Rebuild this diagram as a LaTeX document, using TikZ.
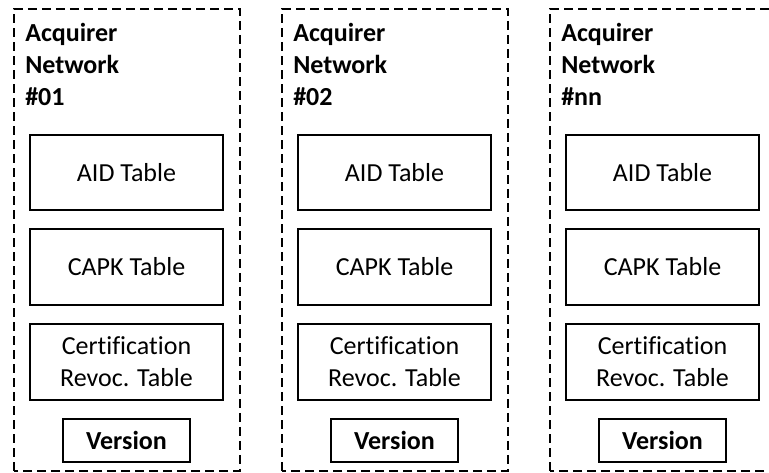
\documentclass[tikz,border=0pt]{standalone}
\usepackage{fontspec}
\setmainfont{Carlito}[Ligatures=CommonOff]
\usetikzlibrary{positioning}

\begin{document}
\begin{tikzpicture}[x=0.75pt,y=0.75pt,
  netbox/.style={draw,line width=1.5pt,dash pattern=on 6.5pt off 4pt},
  tbl/.style={draw,line width=1.5pt,minimum width=144.75pt,minimum height=57pt,
    inner sep=0pt,align=center,font=\fontsize{19.5}{24}\selectfont},
  verbox/.style={draw,line width=1.5pt,minimum width=95.25pt,minimum height=32.25pt,
    inner sep=0pt,font=\fontsize{19.5}{24}\selectfont\bfseries},
  title/.style={anchor=north west,inner sep=0pt,align=left,
    font=\fontsize{19.5}{24}\selectfont\bfseries},
  node distance=12.75pt]
  \clip (0,0) rectangle (769,473);
  % one acquirer network per column, the last one runs off the right edge
  \foreach \n [count=\c from 0] in {01,02,nn} {
    \begin{scope}[xshift=\c*201pt]
      \draw[netbox] (14,2) rectangle (240,464);
      \node[title] (net\n) at (25,450) {Acquirer\\Network\\\#\n};
      \node[tbl,minimum height=56.25pt] (aid\n) at (126.5,300.5) {AID Table};
      \node[tbl,below=of aid\n] (capk\n) {CAPK Table};
      \node[tbl,below=of capk\n] (crl\n) {Certification\\Revoc. Table};
      \node[verbox,below=of crl\n] (ver\n) {Version};
    \end{scope}
  }
\end{tikzpicture}
\end{document}
